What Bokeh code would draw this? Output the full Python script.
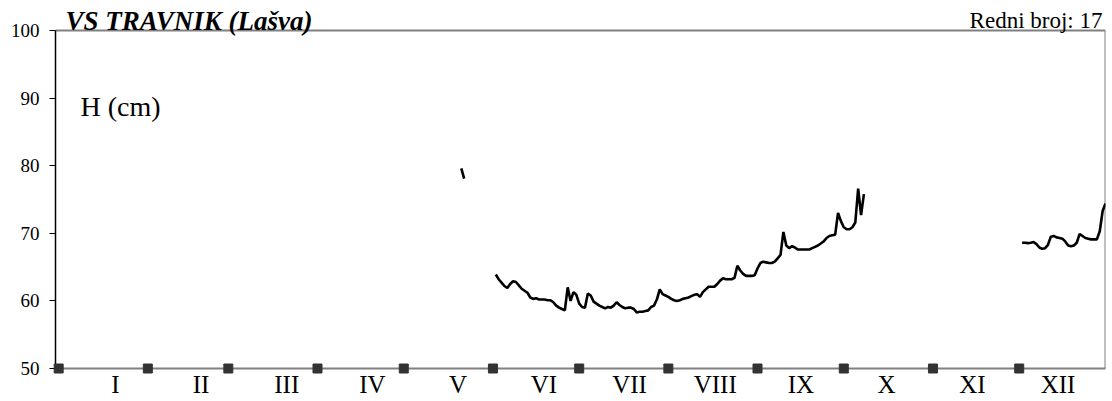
import math
from bokeh.plotting import figure
from bokeh.models import FixedTicker, Label, Range1d
from bokeh.embed import file_html
from bokeh.resources import INLINE

# ---------------- data ----------------
title_text = "VS TRAVNIK (Lašva)"
number_text = "Redni broj: 17"
unit_text = "H (cm)"

months = ["I", "II", "III", "IV", "V", "VI", "VII", "VIII", "IX", "X", "XI", "XII"]
month_start_days = [1, 32, 60, 91, 121, 152, 182, 213, 244, 274, 305, 335]
y_ticks = [50, 60, 70, 80, 90, 100]

# short piece in late May (day of year 141-142)
may_days = [141, 142]
may_h = [79.6, 78.1]

# June 2 .. October 8 (day of year 153 ..)
summer_start = 153
summer_h = [
    63.9, 63.2, 62.7, 62.2, 61.9, 62.5, 62.9, 62.8, 62.3, 61.8,
    61.5, 61.2, 60.5, 60.3, 60.4, 60.2, 60.2, 60.2, 60.1, 60.1,
    59.8, 59.3, 59.0, 58.8, 58.6, 62.0, 60.0, 61.3, 60.9, 59.6,
    59.1, 59.0, 61.1, 60.8, 59.9, 59.6, 59.3, 59.1, 58.9, 59.1,
    59.0, 59.3, 59.8, 59.4, 59.1, 58.9, 59.0, 59.0, 58.8, 58.3,
    58.4, 58.4, 58.5, 58.6, 59.1, 59.3, 60.2, 61.7, 61.0, 60.8,
    60.6, 60.3, 60.1, 60.0, 60.1, 60.3, 60.4, 60.5, 60.7, 60.9,
    61.0, 60.6, 61.3, 61.7, 62.1, 62.1, 62.1, 62.5, 63.0, 63.35,
    63.2, 63.2, 63.2, 63.4, 65.2, 64.5, 64.0, 63.7, 63.7, 63.7,
    63.8, 64.8, 65.6, 65.8, 65.7, 65.6, 65.6, 65.8, 66.3, 66.8,
    70.2, 68.2, 67.8, 68.1, 67.9, 67.6, 67.6, 67.6, 67.6, 67.6,
    67.8, 68.0, 68.2, 68.5, 68.8, 69.3, 69.6, 69.7, 69.8, 73.0,
    71.8, 70.9, 70.6, 70.6, 70.9, 71.6, 76.6, 72.7, 75.8,
]

# December 2 .. 31 (day of year 336 ..)
dec_start = 336
dec_h = [
    68.6, 68.6, 68.55, 68.6, 68.7, 68.4, 67.9, 67.7, 67.8, 68.3,
    69.5, 69.6, 69.4, 69.3, 69.2, 68.8, 68.2, 68.1, 68.2, 68.6,
    69.9, 69.6, 69.3, 69.2, 69.1, 69.1, 69.1, 70.3, 73.3, 74.4,
]

# full year series with gaps (NaN) where no data
days = list(range(1, 366))
h = [math.nan] * 365
for d, v in zip(may_days, may_h):
    h[d - 1] = v
for i, v in enumerate(summer_h):
    h[summer_start + i - 1] = v
for i, v in enumerate(dec_h):
    h[dec_start + i - 1] = v

# ---------------- figure ----------------
FONT = "Liberation Serif"
FRAME = "#808080"
X0, X1 = -0.1, 365
Y0, Y1 = y_ticks[0], y_ticks[-1]
Y_TOP = 103.7   # room above the box for the headings

p = figure(
    width=1108, height=400,
    x_range=Range1d(X0, X1), y_range=Range1d(Y0, Y_TOP),
    output_backend="svg", toolbar_location=None,
    min_border_left=55, min_border_top=5, min_border_right=3, min_border_bottom=32,
)
p.xgrid.visible = False
p.ygrid.visible = False
p.outline_line_color = None
p.background_fill_color = "white"
p.border_fill_color = "white"

# y axis
p.yaxis.ticker = FixedTicker(ticks=y_ticks)
p.yaxis.bounds = (Y0, Y1)
p.yaxis.major_label_text_font = FONT
p.yaxis.major_label_text_font_size = "19px"
p.yaxis.major_label_text_color = "black"
p.yaxis.major_tick_out = 6
p.yaxis.major_tick_in = 0
p.yaxis.minor_tick_out = 0
p.yaxis.minor_tick_in = 0
p.yaxis.axis_line_color = "black"
p.yaxis.axis_line_width = 1.5
p.yaxis.major_tick_line_color = "black"
p.yaxis.major_label_standoff = 10

# x axis: month names between month-start markers
label_pos = [round(20.7 + 29.8 * i, 1) for i in range(12)]
p.xaxis.ticker = FixedTicker(ticks=label_pos)
p.xaxis.major_label_overrides = {pos: m for pos, m in zip(label_pos, months)}
p.xaxis.major_label_text_font = FONT
p.xaxis.major_label_text_font_size = "25px"
p.xaxis.major_label_text_color = "black"
p.xaxis.major_tick_out = 0
p.xaxis.major_tick_in = 0
p.xaxis.minor_tick_out = 0
p.xaxis.minor_tick_in = 0
p.xaxis.axis_line_color = FRAME
p.xaxis.axis_line_width = 2
p.xaxis.major_label_standoff = 2

# box: top and right edges of the plot area
p.segment(x0=[X0, X1], y0=[Y1, Y0], x1=[X1, X1], y1=[Y1, Y1],
          line_color=FRAME, line_width=2)

# data line
p.line(days, h, line_color="black", line_width=2.6)

# month-start markers on the base line
p.scatter(month_start_days, [Y0] * len(month_start_days), marker="square",
          size=9, fill_color="#333333", line_color="#333333", level="overlay")

# texts
p.add_layout(Label(x=X0, y=Y1, x_offset=10, y_offset=10,
                   text=title_text, text_font=FONT, text_font_size="27px",
                   text_font_style="bold italic", text_color="black",
                   text_baseline="alphabetic", text_align="left"))
p.add_layout(Label(x=X1, y=Y1, x_offset=-3, y_offset=10,
                   text=number_text, text_font=FONT, text_font_size="23px",
                   text_color="black", text_baseline="alphabetic", text_align="right"))
p.add_layout(Label(x=X0, y=88.8, x_offset=25, y_offset=0,
                   text=unit_text, text_font=FONT, text_font_size="28px",
                   text_color="black", text_baseline="alphabetic", text_align="left"))

open("out.html", "w").write(file_html(p, INLINE))
